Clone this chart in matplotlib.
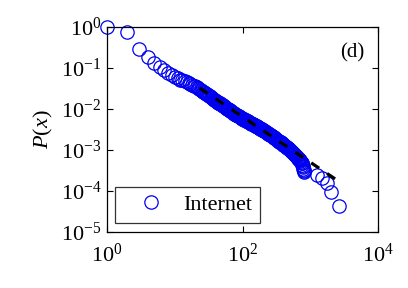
import numpy as np
import matplotlib
matplotlib.use("Agg")
import matplotlib.pyplot as plt

plt.rcParams['font.family'] = ['Liberation Serif', 'DejaVu Serif']
plt.rcParams['mathtext.fontset'] = 'custom'
plt.rcParams['mathtext.rm'] = 'Liberation Serif'
plt.rcParams['mathtext.it'] = 'Liberation Serif:italic'

# --- CCDF of node degree ---
degree = [1, 2, 3, 4, 5, 6, 7, 8, 9, 10, 11, 12, 13, 14, 15, 16, 17, 18, 19,
          20, 21, 22, 23, 24, 25, 26, 27, 28, 29, 30, 31, 32, 34, 35, 37, 38,
          40, 42, 44, 46, 48, 50, 52, 55, 57, 60, 62, 65, 68, 71, 74, 78, 81,
          85, 89, 93, 97, 101, 106, 111, 116, 121, 126, 132, 138, 144, 151,
          158, 165, 172, 180, 188, 197, 206, 215, 225, 235, 246, 257, 269, 281,
          294, 307, 321, 335, 350, 366, 383, 400, 418, 437, 457, 478, 500, 522,
          546, 571, 597, 624, 652, 682, 712, 745, 760, 780, 800, 820,
          1260, 1480, 1740, 2040, 2630]
prob = [1.0, 0.74, 0.295, 0.182, 0.132, 0.105, 0.087, 0.076, 0.068, 0.060,
        0.056, 0.052, 0.050, 0.047, 0.045, 0.043, 0.041, 0.039, 0.037,
        0.0355, 0.0337, 0.0321, 0.0305, 0.0292, 0.0279, 0.0267, 0.0257,
        0.0247, 0.0238, 0.0229, 0.0220, 0.0211, 0.0195, 0.0188, 0.0175,
        0.0169, 0.0158, 0.0151, 0.0144, 0.0137, 0.0131, 0.0125, 0.0120,
        0.0113, 0.0108, 0.0102, 0.0098, 0.0092, 0.0088, 0.0083, 0.0079,
        0.0075, 0.0072, 0.0069, 0.0066, 0.0063, 0.0060, 0.0057, 0.0055,
        0.0053, 0.0051, 0.0049, 0.0047, 0.0045, 0.0043, 0.0042, 0.0040,
        0.0038, 0.0037, 0.00355, 0.0034, 0.00325, 0.0031, 0.00297, 0.00284,
        0.00271, 0.00258, 0.00244, 0.00232, 0.0022, 0.00209, 0.00199,
        0.00189, 0.00179, 0.0017, 0.00161, 0.00153, 0.00145, 0.00136,
        0.00128, 0.00121, 0.00114, 0.00107, 0.000998, 0.00093, 0.00087,
        0.00081, 0.00076, 0.00071, 0.00065, 0.00059, 0.00054, 0.00049,
        0.00044, 0.00038, 0.00033, 0.00029,
        0.000245, 0.000204, 0.000155, 0.000095, 0.0000437]

# more degrees in the crowded middle part of the curve
degree_mid = [33, 36, 39, 41, 43, 45, 47, 49, 51, 53, 56, 58, 61, 63, 66, 70,
              73, 76, 80, 83, 87, 91, 95, 99, 104, 109, 114, 119, 124, 129,
              135, 141, 148, 155, 162, 169, 176, 184, 193, 202, 211, 220, 230,
              241, 252, 263, 275, 288, 300, 314, 328, 343, 358, 375, 392, 409,
              428, 447, 468, 489, 511, 534, 559, 584, 611, 638, 667, 697, 728,
              750, 770, 790, 810]
prob_mid = [0.0203, 0.0181, 0.0163, 0.0154, 0.0147, 0.0140, 0.0134, 0.0128,
            0.0122, 0.0117, 0.0110, 0.0106, 0.0100, 0.0096, 0.0090, 0.0085,
            0.0080, 0.0077, 0.0073, 0.0070, 0.0067, 0.0064, 0.0061, 0.0058,
            0.0056, 0.0054, 0.0052, 0.0050, 0.0048, 0.0046, 0.0044, 0.00425,
            0.0041, 0.0039, 0.00375, 0.0036, 0.00348, 0.00333, 0.00318,
            0.00303, 0.0029, 0.00277, 0.00264, 0.0025, 0.00238, 0.00226,
            0.00214, 0.00204, 0.00194, 0.00184, 0.00175, 0.00166, 0.00157,
            0.00149, 0.0014, 0.00132, 0.00124, 0.00117, 0.0011, 0.00103,
            0.00096, 0.0009, 0.00084, 0.00078, 0.00073, 0.00068, 0.00062,
            0.00056, 0.00051, 0.00047, 0.00041, 0.00035, 0.00031]

# power-law fit (dashed line) endpoints
fit_x = [23.4, 2455]
fit_y = [0.0324, 0.000186]

x_all = np.concatenate([degree, degree_mid])
y_all = np.concatenate([prob, prob_mid])
order = np.argsort(x_all)
x_all, y_all = x_all[order], y_all[order]

fig = plt.figure(figsize=(4.08, 2.88), dpi=100)
ax = fig.add_axes([0.2623, 0.1944, 0.6642, 0.7118])

ax.plot(x_all, y_all, 'o', mfc='none', mec='#0000f0', ms=9.6, mew=0.9,
        label='Internet', clip_on=False, zorder=2)
ax.plot(fit_x, fit_y, color='black', lw=2.3, ls=(0, (3, 3)), zorder=3)

ax.set_xscale('log')
ax.set_yscale('log')
ax.set_xlim(1, 1e4)
ax.set_ylim(1e-5, 1)
ax.set_xticks([1, 1e2, 1e4])
ax.set_xticklabels([r'$10^{0}$', r'$10^{2}$', r'$10^{4}$'])
ax.set_yticks([1e-5, 1e-4, 1e-3, 1e-2, 1e-1, 1])
ax.set_yticklabels([r'$10^{-5}$', r'$10^{-4}$', r'$10^{-3}$',
                    r'$10^{-2}$', r'$10^{-1}$', r'$10^{0}$'])
ax.minorticks_off()
ax.tick_params(direction='in', length=4, width=0.8, labelsize=16,
               top=True, right=True)
ax.tick_params(axis='x', pad=8)
ax.tick_params(axis='y', pad=4)
for s in ax.spines.values():
    s.set_linewidth(0.9)

ax.set_ylabel(r'$P(x)$', fontsize=16, labelpad=4)
ax.text(0.95, 0.92, '(d)', transform=ax.transAxes, ha='right', va='top',
        fontsize=15)

leg = ax.legend(loc='lower left', bbox_to_anchor=(0.03, 0.044), fontsize=16,
                frameon=True, fancybox=False, edgecolor='black',
                handletextpad=0.2, borderpad=0.35, handlelength=2.5,
                borderaxespad=0)
leg.get_frame().set_linewidth(0.9)

fig.savefig('out.png', dpi=100)
